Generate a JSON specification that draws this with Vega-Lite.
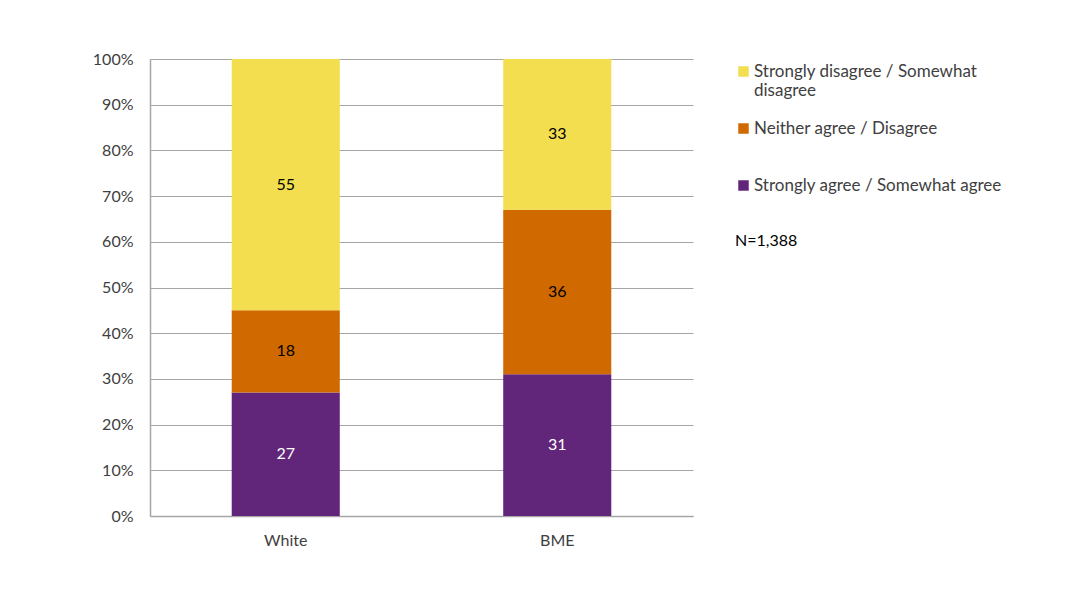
{
  "$schema": "https://vega.github.io/schema/vega-lite/v6.json",
  "width": 543,
  "height": 457,
  "autosize": {"type": "none"},
  "padding": {"left": 150, "top": 59, "right": 381, "bottom": 79},
  "background": "white",
  "config": {
    "font": "Lato",
    "view": {"stroke": null},
    "axis": {"labelFont": "Lato", "labelFontSize": 16, "labelColor": "#404040"}
  },
  "data": {
    "values": [
      {"group": "White", "response": "Strongly agree / Somewhat agree", "value": 27, "ord": 1},
      {"group": "White", "response": "Neither agree / Disagree", "value": 18, "ord": 2},
      {"group": "White", "response": "Strongly disagree / Somewhat disagree", "value": 55, "ord": 3},
      {"group": "BME", "response": "Strongly agree / Somewhat agree", "value": 31, "ord": 1},
      {"group": "BME", "response": "Neither agree / Disagree", "value": 36, "ord": 2},
      {"group": "BME", "response": "Strongly disagree / Somewhat disagree", "value": 33, "ord": 3}
    ]
  },
  "encoding": {
    "x": {
      "field": "group", "type": "nominal", "sort": ["White", "BME"],
      "scale": {"paddingInner": 0.602, "paddingOuter": 0.301},
      "axis": {"title": null, "labelAngle": 0, "ticks": false, "labelPadding": 16, "domainColor": "#a6a6a6", "domainWidth": 1.5, "grid": false}
    },
    "y": {
      "field": "value", "type": "quantitative", "stack": "zero",
      "scale": {"domain": [0, 100], "nice": false},
      "axis": {"title": null, "values": [0,10,20,30,40,50,60,70,80,90,100], "labelExpr": "datum.value + '%'", "ticks": false, "labelPadding": 17, "domainColor": "#a6a6a6", "domainWidth": 1.5, "gridColor": "#a6a6a6", "gridWidth": 1}
    },
    "order": {"field": "ord", "type": "quantitative"}
  },
  "layer": [
    {
      "mark": {"type": "bar"},
      "encoding": {
        "color": {
          "field": "response", "type": "nominal",
          "scale": {
            "domain": ["Strongly disagree / Somewhat disagree", "Neither agree / Disagree", "Strongly agree / Somewhat agree"],
            "range": ["#F2DE4F", "#D06A00", "#61267A"]
          },
          "legend": {
            "orient": "none", "legendX": 585, "legendY": 4,
            "title": "N=1,388", "titleOrient": "bottom", "titleFont": "Lato", "titleFontSize": 16, "titleFontWeight": "normal", "titleColor": "#000000", "titlePadding": 20,
            "symbolType": "square", "symbolSize": 110, "symbolStrokeWidth": 0, "symbolOpacity": 1,
            "labelFont": "Lato", "labelFontSize": 17, "labelColor": "#404040", "labelLimit": 400, "labelOffset": 2,
            "rowPadding": 20,
            "labelExpr": "datum.label == 'Strongly disagree / Somewhat disagree' ? ['Strongly disagree / Somewhat', 'disagree'] : [datum.label, '']"
          }
        }
      }
    },
    {
      "mark": {"type": "text", "fontSize": 16, "font": "Lato"},
      "encoding": {
        "y": {"field": "value", "type": "quantitative", "stack": "zero", "bandPosition": 0.5},
        "text": {"field": "value", "type": "quantitative"},
        "color": {
          "condition": {"test": "datum.ord == 1", "value": "white"},
          "value": "black"
        }
      }
    }
  ]
}
